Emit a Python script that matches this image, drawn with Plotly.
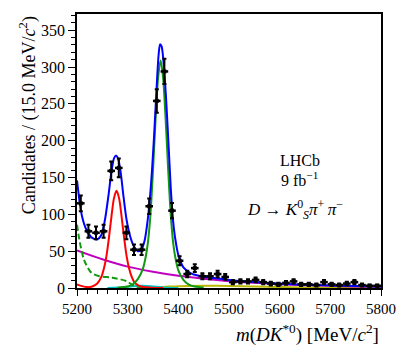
import numpy as np
import plotly.graph_objects as go

# ---- data (candidates per 15 MeV bin) ----
bin_centers = [5207.5 + 15 * i for i in range(40)]
counts = [115, 77, 75, 77, 159, 163, 75, 52, 52, 111,
          254, 294, 105, 37, 19, 27, 16, 16, 19, 15,
          8, 9, 9, 11, 8, 6, 5, 7, 9, 5,
          5, 4, 8, 5, 4, 6, 8, 4, 3, 3]
bin_half_width = 7.5

# ---- fit components ----
total_m = [5200, 5205, 5210, 5215, 5220, 5230, 5240, 5248, 5255, 5262, 5268, 5273, 5277,
           5281, 5286, 5292, 5298, 5305, 5312, 5320, 5327, 5333, 5340, 5346, 5352, 5357,
           5361, 5364, 5367, 5371, 5376, 5381, 5386, 5391, 5396, 5400, 5410, 5425, 5445,
           5470, 5500, 5550, 5600, 5650, 5700, 5750, 5800]
total_y = [146, 118, 97, 85, 77, 68, 66, 72, 92, 125, 158, 176, 180,
           176, 158, 123, 92, 70, 57, 50, 52, 63, 95, 140, 205, 270,
           316, 331, 328, 305, 255, 190, 125, 82, 58, 45, 28, 20, 16,
           13.5, 11, 8, 6, 4.5, 3.5, 2.8, 2.2]

b0_m = [5200, 5210, 5220, 5230, 5240, 5248, 5253, 5258, 5263, 5268, 5273, 5278,
        5283, 5288, 5293, 5298, 5303, 5308, 5313, 5320, 5330, 5345, 5370]
b0_y = [5, 2.5, 1.2, 2.0, 6, 15, 26, 43, 68, 97, 122, 132,
        122, 97, 68, 43, 26, 15, 8, 4, 1.5, 0.5, 0.1]

bs_m = [5280, 5300, 5310, 5320, 5330, 5335, 5340, 5345, 5350, 5355, 5360, 5365,
        5370, 5375, 5380, 5385, 5390, 5395, 5400, 5410, 5420, 5430, 5450]
bs_y = [0.5, 2, 5, 12, 26, 40, 62, 100, 160, 228, 285, 309,
        285, 228, 160, 100, 60, 38, 24, 11, 5, 2.5, 0.8]

partreco_m = [5200, 5204, 5208, 5213, 5218, 5228, 5244, 5270, 5297, 5310, 5320, 5332]
partreco_y = [86, 68, 54, 40, 32, 21, 16, 14, 9.5, 4, 1, 0]

comb_m = [5200, 5250, 5300, 5350, 5400, 5450, 5500, 5550, 5600, 5650, 5700, 5750, 5800]
comb_y = [51, 39, 29, 22, 16.5, 12.5, 9.3, 7, 5.2, 3.9, 2.9, 2.2, 1.6]

cyan_m = [5260, 5290, 5310, 5330, 5350, 5370, 5400]
cyan_y = [0, 1, 2.5, 3, 2, 0.8, 0]

yel_m = [5320, 5370, 5400, 5450, 5500, 5550, 5600, 5650, 5700, 5800]
yel_y = [0.3, 1.5, 2.5, 3, 2.8, 2, 1.3, 0.8, 0.4, 0.1]

x_ticks = [5200, 5300, 5400, 5500, 5600, 5700, 5800]
y_ticks = [0, 50, 100, 150, 200, 250, 300, 350]

FONT = "Liberation Serif"
fig = go.Figure()

def curve(xs, ys, color, dash="solid"):
    fig.add_trace(go.Scatter(x=xs, y=ys, mode="lines",
                             line=dict(color=color, width=2, dash=dash, shape="spline", smoothing=0.8),
                             hoverinfo="skip", showlegend=False))

curve(yel_m, yel_y, "#b8b800")
curve(cyan_m, cyan_y, "#00c0c0")
curve(comb_m, comb_y, "#c000c0")
curve(partreco_m, partreco_y, "#119911", dash="6px,3px")
curve(b0_m, b0_y, "#ff0000")
curve(bs_m, bs_y, "#119911")
curve(total_m, total_y, "#0000ff")

errs = [float(np.sqrt(c)) for c in counts]
fig.add_trace(go.Scatter(
    x=bin_centers, y=counts, mode="markers",
    marker=dict(symbol="square", size=4, color="black"),
    error_y=dict(type="data", array=errs, color="black", thickness=2, width=2),
    error_x=dict(type="constant", value=bin_half_width, color="black", thickness=2.5, width=0),
    showlegend=False, hoverinfo="skip"))

axis_common = dict(showline=True, linecolor="black", linewidth=1.5, mirror=True,
                   ticks="outside", tickcolor="black", tickwidth=1.2,
                   showgrid=False, zeroline=False)

fig.update_xaxes(range=[5200, 5800], tickvals=x_ticks, ticklen=6,
                 tickfont=dict(family=FONT, size=15, color="black"),
                 minor=dict(dtick=20, tick0=5200, ticks="outside", ticklen=4, tickcolor="black", tickwidth=1),
                 **axis_common)
fig.update_yaxes(range=[0, 372], tickvals=y_ticks, ticklen=7,
                 tickfont=dict(family=FONT, size=16, color="black"),
                 minor=dict(dtick=10, tick0=0, ticks="outside", ticklen=4, tickcolor="black", tickwidth=1),
                 **axis_common)

ann_font = dict(family=FONT, size=16, color="black")
fig.add_annotation(text="Candidates / (15.0 MeV/<i>c</i><sup>2</sup>)", textangle=-90,
                   xref="paper", yref="paper", x=-0.16, y=1.0, xanchor="center", yanchor="top",
                   showarrow=False, font=dict(family=FONT, size=18, color="black"))
fig.add_annotation(text="<i>m</i>(<i>DK</i><sup>*0</sup>) [MeV/<i>c</i><sup>2</sup>]",
                   xref="paper", yref="paper", x=1.0, y=-0.165, xanchor="right", yanchor="middle",
                   showarrow=False, font=dict(family=FONT, size=19, color="black"))
fig.add_annotation(text="LHCb", xref="x", yref="paper", x=5640, y=0.464,
                   showarrow=False, font=ann_font)
fig.add_annotation(text="9 fb<sup>\u22121</sup>", xref="x", yref="paper", x=5640, y=0.399,
                   showarrow=False, font=ann_font)
fig.add_annotation(text="<i>D</i> \u2192 <i>K</i><sup>0</sup><sub><i>S</i></sub><i>\u03c0</i><sup>+</sup>\u2009<i>\u03c0</i><sup>\u2212</sup>",
                   xref="x", yref="paper", x=5630, y=0.235,
                   showarrow=False, font=dict(family=FONT, size=17, color="black"))

# the page body adds an 8 px margin, so the figure is drawn 8 px smaller and the margins shifted
fig.update_layout(width=400, height=348, margin=dict(l=69, r=27, t=4, b=68),
                  paper_bgcolor="white", plot_bgcolor="white",
                  font=dict(family=FONT, color="black"))

fig.write_html("out.html")
